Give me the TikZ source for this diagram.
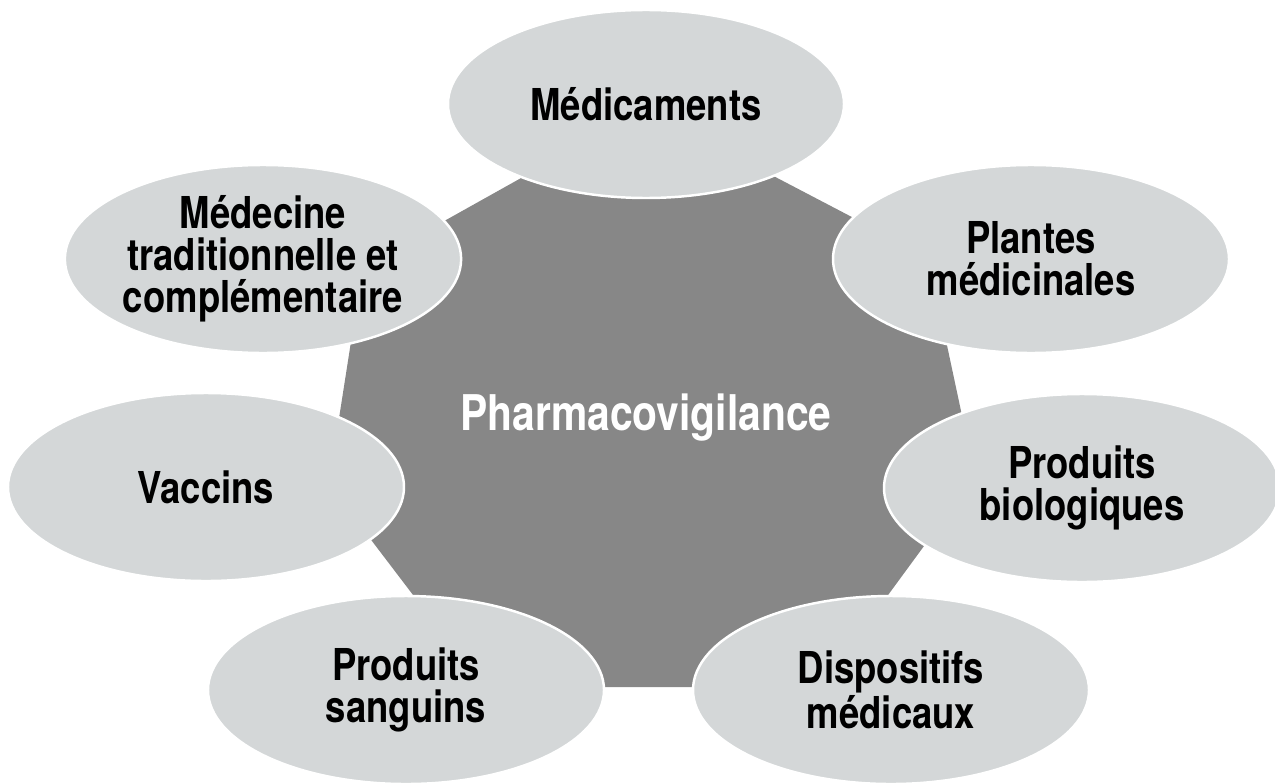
\documentclass[tikz,border=0pt]{standalone}
\usepackage{fontspec}
\setmainfont{TeX Gyre Heros}[FakeStretch=0.83]
\usepackage{tikz}
\usetikzlibrary{shapes.geometric}
\definecolor{hubgray}{HTML}{878787}
\definecolor{leafgray}{HTML}{D4D7D8}

\begin{document}
\begin{tikzpicture}[
    leaf/.style={ellipse, fill=leafgray, draw=white, line width=1.4pt,
      minimum width=7.92cm, minimum height=3.76cm, inner sep=0pt, align=center,
      font=\bfseries\fontsize{25}{24}\selectfont},
    hub/.style={fill=hubgray}
  ]
    \useasboundingbox (0,0) rectangle (25.5,15.66);
    % Draw central shape
    \fill[hub] (8.57,11.064) -- (10.63,12.216) -- (15.266,12.246) -- (17.354,11.154)
      -- (18.876,9.052) -- (19.304,7.048) -- (18.716,5.062) -- (17.584,3.518)
      -- (14.18,1.92) -- (11.76,1.92) -- (8.442,3.522) -- (7.258,5.078)
      -- (6.738,7.024) -- (7.062,9.096) -- cycle;
    \node[anchor=base, text=white, font=\bfseries\fontsize{28}{30}\selectfont] (pv) at (12.92,7.06) {Pharmacovigilance};

    % Draw outer ellipses
    \node[leaf] (med) at (12.92,13.58) {Médicaments};
    \node[leaf] (plantes) at (20.62,10.48) {Plantes\\médicinales};
    \node[leaf] (bio) at (21.64,5.90) {Produits\\biologiques};
    \node[leaf] (dispo) at (17.82,1.86) {Dispositifs\\médicaux};
    \node[leaf] (sang) at (8.12,1.86) {Produits\\sanguins};
    \node[leaf] (vacc) at (4.12,5.92) {Vaccins};
    \node[leaf] (tradi) at (5.26,10.48) {Médecine\\traditionnelle et\\complémentaire};
\end{tikzpicture}
\end{document}
